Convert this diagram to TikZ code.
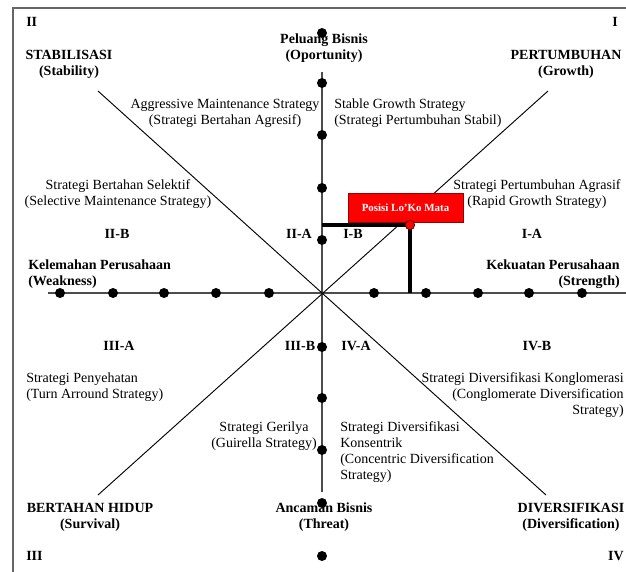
\documentclass[tikz,border=0pt]{standalone}
\usepackage{fontspec}
\setmainfont{Liberation Serif}
\begin{document}
\begin{tikzpicture}[x=0.75pt,y=-0.75pt]
\tikzset{
 lbl/.style={font=\fontsize{10.5}{12}\selectfont, inner sep=0pt},
 blbl/.style={inner sep=0pt, font=\fontsize{10.5}{12}\selectfont\bfseries},
 dot/.style={circle, fill=black, minimum size=7.5pt, inner sep=0pt},
 axisline/.style={draw=black!70, line width=1.1pt},
 diag/.style={draw=black, line width=0.7pt},
 frameline/.style={draw=black!60, line width=1.4pt},
 posline/.style={draw=black, line width=2.3pt},
 posbox/.style={draw=red!60!black, fill=red, minimum width=86pt, minimum height=22pt, inner sep=0pt,
   text=white, font=\fontsize{8.2}{9}\selectfont\bfseries},
 posdot/.style={circle, fill=red, draw=red!40!black, line width=0.6pt, minimum size=7pt, inner sep=0pt}
}
\useasboundingbox (0,0) rectangle (626,572);
\clip (0,0) rectangle (626,572);
% frame
\coordinate (fTL) at (13,8);
\coordinate (fTR) at (640,8);
\coordinate (fBL) at (13,580);
\draw[frameline] (fTR) -- (fTL) -- (fBL);
% axes
\coordinate (C) at (322,293);
\coordinate (vTop) at (322,72);
\coordinate (vBot) at (322,492);
\coordinate (hL) at (48,293);
\coordinate (hR) at (640,293);
\draw[axisline] (vTop) -- (vBot);
\draw[axisline] (hL) -- (hR);
% diagonals
\coordinate (dUL) at (98,91);
\coordinate (dLR) at (546,495);
\coordinate (dUR) at (548,91);
\coordinate (dLL) at (98,495);
\draw[diag] (dUL) -- (dLR);
\draw[diag] (dUR) -- (dLL);
% labels
\node[blbl, anchor=west] (q2) at (26,22) {II};
\node[blbl] (q1) at (615,22) {I};
\node[blbl, anchor=west] (q3) at (26,556) {III};
\node[blbl, anchor=east] (q4) at (624,556) {IV};
\node[blbl, align=center] (stab) at (69,64) {STABILISASI\\(Stability)};
\node[blbl, align=center] (opp) at (324,48) {Peluang Bisnis\\(Oportunity)};
\node[blbl, align=center] (grow) at (566,64) {PERTUMBUHAN\\(Growth)};
\node[lbl, align=center] (agm) at (225,113) {Aggressive Maintenance Strategy\\(Strategi Bertahan Agresif)};
\node[lbl, align=left, anchor=west] (sgs) at (334,113) {Stable Growth Strategy\\(Strategi Pertumbuhan Stabil)};
\node[lbl, align=center] (sel) at (118,194) {Strategi Bertahan Selektif\\(Selective Maintenance Strategy)};
\node[lbl, align=center] (rap) at (537,194) {Strategi Pertumbuhan Agrasif\\(Rapid Growth Strategy)};
\node[blbl] (iib) at (117,234) {II-B};
\node[blbl] (iia) at (299,234) {II-A};
\node[blbl] (ib) at (353,234) {I-B};
\node[blbl] (ia) at (532,234) {I-A};
\node[blbl, align=left, anchor=west] (weak) at (28,274) {Kelemahan Perusahaan\\(Weakness)};
\node[blbl, align=right, anchor=east] (str) at (620,274) {Kekuatan Perusahaan\\(Strength)};
\node[blbl] (iiia) at (119,346) {III-A};
\node[blbl] (iiib) at (300,346) {III-B};
\node[blbl] (iva) at (356,346) {IV-A};
\node[blbl] (ivb) at (537,346) {IV-B};
\node[lbl, align=left, anchor=west] (turn) at (26,387) {Strategi Penyehatan\\(Turn Arround Strategy)};
\node[lbl, align=right, anchor=east] (cong) at (624,395) {Strategi Diversifikasi Konglomerasi\\(Conglomerate Diversification\\Strategy)};
\node[lbl, align=center] (guer) at (264,436) {Strategi Gerilya\\(Guirella Strategy)};
\node[lbl, align=left, anchor=west] (conc) at (340,452) {Strategi Diversifikasi\\Konsentrik\\(Concentric Diversification\\Strategy)};
\node[blbl, align=center] (surv) at (90,517) {BERTAHAN HIDUP\\(Survival)};
\node[blbl, align=center] (thr) at (324,517) {Ancaman Bisnis\\(Threat)};
\node[blbl, align=center] (div) at (571,517) {DIVERSIFIKASI\\(Diversification)};
% dots on vertical axis
\foreach \y [count=\i] in {33,83,135,188,240,347,398,450,503,556}
  \node[dot] (v\i) at (322,\y) {};
% dots on horizontal axis
\foreach \x [count=\i] in {60,113,164,216,269,374,426,478,529,582}
  \node[dot] (h\i) at (\x,293) {};
% position
\node[posbox] (pbox) at (405.5,207.5) {Posisi Lo’Ko Mata};
\coordinate (pv) at (322,225);
\coordinate (pP) at (410,225);
\coordinate (pH) at (410,293);
\draw[posline] (pv) -- (pP) -- (pH);
\node[posdot] (pdot) at (pP) {};
\end{tikzpicture}
\end{document}
